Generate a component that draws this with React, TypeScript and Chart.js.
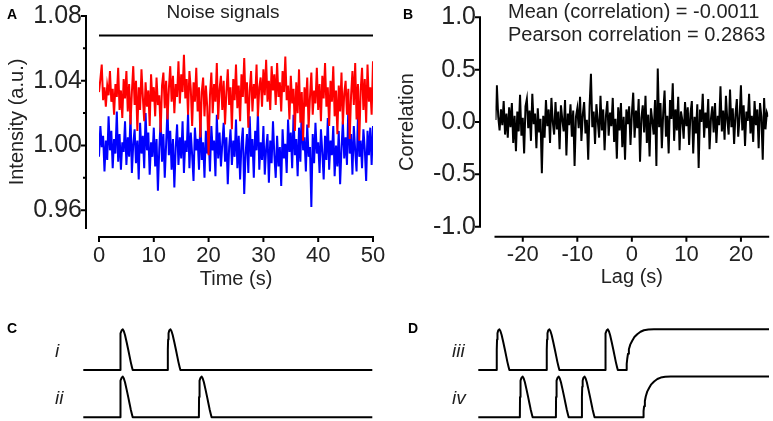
import React, { useEffect, useRef } from 'react';
import { Chart, registerables } from 'chart.js';

Chart.register(...registerables);

const FONT = "'Liberation Sans', Arial, Helvetica, sans-serif";
const TEXT = '#222';

// ---------- Panel A: noise signals ----------
const timeStep = 0.25; // s
const redSignal = [
  1.033, 1.041, 1.050, 1.028, 1.036, 1.024, 1.037, 1.031, 1.046, 1.027, 1.035, 1.019, 1.038, 1.030, 1.048, 1.022, 1.034, 1.017, 1.041, 1.029,
  1.046, 1.021, 1.038, 1.013, 1.033, 1.049, 1.025, 1.040, 1.009, 1.036, 1.022, 1.047, 1.030, 1.015, 1.039, 1.024, 1.034, 1.012, 1.044, 1.027,
  1.036, 1.018, 1.042, 1.025, 1.031, 1.008, 1.037, 1.045, 1.023, 1.040, 1.016, 1.035, 1.049, 1.027, 1.043, 1.020, 1.038, 1.030, 1.052, 1.026,
  1.044, 1.033, 1.056, 1.029, 1.041, 1.019, 1.046, 1.035, 1.012, 1.039, 1.027, 1.048, 1.021, 1.036, 1.005, 1.033, 1.042, 1.018, 1.037, 1.024,
  0.994, 1.031, 1.045, 1.020, 1.038, 1.027, 1.051, 1.016, 1.035, 1.043, 1.022, 1.040, 1.013, 1.033, 1.047, 1.025, 1.036, 1.010, 1.041, 1.028,
  1.050, 1.023, 1.037, 1.015, 1.044, 1.030, 1.054, 1.026, 1.039, 1.011, 1.034, 1.046, 1.021, 1.038, 1.029, 1.050, 1.018, 1.036, 1.042, 1.024,
  1.047, 1.031, 1.053, 1.027, 1.040, 1.022, 1.049, 1.034, 1.044, 1.025, 1.051, 1.030, 1.039, 1.021, 1.046, 1.033, 1.055, 1.028, 1.037, 1.016,
  1.043, 1.026, 1.035, 1.009, 1.039, 1.020, 1.047, 1.014, 1.033, 1.003, 1.036, 1.024, 1.042, 1.011, 1.030, 1.045, 1.019, 1.034, 1.026, 1.048,
  1.022, 1.038, 1.015, 1.043, 1.029, 1.051, 1.024, 1.036, 1.012, 1.040, 1.027, 1.049, 1.018, 1.034, 1.007, 1.037, 1.021, 1.045, 1.013, 1.032,
  1.040, 1.019, 1.035, 1.004, 1.031, 1.046, 1.025, 1.051, 1.016, 1.038, 1.003, 1.034, 1.048, 1.022, 1.041, 1.014, 1.050, 1.027, 1.036, 1.019,
  1.052,
];
const blueSignal = [
  0.993, 1.012, 0.999, 1.006, 0.984, 1.003, 0.991, 1.018, 0.997, 1.009, 0.986, 1.004, 0.995, 1.021, 0.990, 1.007, 0.985, 1.002, 0.996, 1.015,
  0.988, 1.005, 0.993, 1.019, 0.983, 1.001, 1.010, 0.989, 1.003, 0.979, 1.014, 0.995, 1.006, 0.986, 1.020, 0.997, 1.008, 0.982, 1.002, 0.993,
  1.011, 0.987, 1.004, 0.972, 0.998, 1.016, 0.990, 1.007, 0.980, 1.001, 1.023, 0.994, 1.009, 0.985, 1.004, 0.974, 0.999, 1.013, 0.988, 1.005,
  0.992, 1.015, 0.983, 1.003, 0.996, 1.020, 0.986, 1.008, 0.994, 0.978, 1.011, 0.997, 1.004, 0.985, 1.017, 0.991, 1.002, 0.980, 1.009, 0.995,
  1.006, 0.984, 1.012, 0.997, 1.003, 0.981, 1.019, 0.992, 1.008, 0.987, 1.001, 1.014, 0.990, 1.005, 0.976, 0.999, 1.010, 0.988, 1.003, 0.993,
  1.016, 0.986, 1.006, 0.979, 1.001, 1.011, 0.970, 0.995, 1.007, 0.983, 1.018, 0.993, 1.004, 0.980, 1.009, 0.997, 1.021, 0.985, 1.002, 0.991,
  1.012, 0.982, 0.998, 1.007, 0.977, 1.003, 0.989, 1.015, 0.994, 0.980, 1.006, 0.987, 0.999, 0.975, 1.010, 0.992, 1.001, 0.983, 1.016, 0.996,
  1.008, 0.986, 1.019, 0.994, 1.004, 0.981, 1.011, 0.990, 1.023, 0.997, 1.005, 0.984, 1.013, 0.993, 0.999, 0.962, 1.007, 0.989, 1.014, 0.995,
  1.002, 0.983, 1.010, 0.996, 0.979, 1.006, 0.991, 1.017, 0.985, 1.003, 0.994, 1.012, 0.981, 1.000, 0.987, 1.009, 0.976, 0.998, 1.015, 0.992,
  1.005, 0.988, 1.024, 0.995, 1.007, 0.982, 1.012, 0.997, 0.984, 1.018, 0.993, 1.003, 0.986, 1.010, 0.998, 0.978, 1.009, 0.994, 1.011, 0.988,
  1.012,
];
const referenceLevel = 1.068;
const xRangeA = [0, 50];
const yRangeA = [0.949, 1.08];
const xTicksA = [0, 10, 20, 30, 40, 50];
const yTicksA = [0.96, 0.98, 1.0, 1.02, 1.04, 1.06, 1.08];
const yMajorTicksA = [0.96, 1.0, 1.04, 1.08];

// ---------- Panel B: cross-correlation ----------
const lagStart = -25;
const lagStep = 0.25;
const correlation = [
  0.02, 0.35, 0.05, -0.08, 0.12, -0.03, 0.20, -0.12, 0.08, -0.15, 0.14, -0.05, 0.18, -0.20, 0.06, -0.28, 0.10, -0.09, 0.26, -0.13,
  0.04, -0.30, 0.15, 0.22, -0.06, 0.11, -0.18, 0.27, -0.02, 0.08, -0.25, 0.13, -0.10, 0.03, -0.49, 0.06, -0.15, 0.21, -0.04, 0.12,
  -0.20, 0.23, 0.00, -0.12, 0.19, -0.07, 0.10, -0.26, 0.16, 0.02, -0.09, 0.21, -0.32, 0.08, -0.03, 0.17, -0.14, 0.11, -0.42, 0.05,
  0.13, -0.06, 0.24, -0.18, 0.07, 0.19, -0.11, 0.02, -0.36, 0.15, 0.46, -0.05, 0.10, -0.21, 0.17, 0.01, -0.15, 0.25, -0.08, 0.12,
  -0.27, 0.06, 0.20, -0.13, 0.09, -0.04, 0.23, -0.19, 0.03, -0.35, 0.14, -0.08, 0.18, -0.24, 0.05, -0.36, 0.12, -0.02, 0.15, -0.22,
  0.08, 0.28, -0.15, 0.11, -0.06, 0.22, -0.38, 0.04, 0.16, -0.10, 0.25, -0.20, 0.07, -0.33, 0.13, 0.01, -0.12, 0.21, -0.42, 0.51,
  -0.05, 0.18, -0.25, 0.09, 0.30, -0.14, 0.06, -0.30, 0.21, 0.03, 0.37, -0.18, 0.12, -0.08, 0.24, -0.27, 0.10, 0.02, -0.16, 0.19,
  -0.04, 0.14, -0.22, 0.08, 0.20, -0.30, 0.05, -0.11, 0.17, -0.44, 0.12, 0.00, 0.27, -0.15, 0.09, -0.06, 0.22, -0.26, 0.03, 0.15,
  -0.10, 0.18, -0.20, 0.06, -0.03, 0.34, -0.09, 0.11, -0.17, 0.25, 0.02, -0.12, 0.31, -0.05, 0.13, -0.21, 0.07, 0.22, -0.14, 0.04,
  0.35, -0.08, 0.16, -0.23, 0.10, 0.01, 0.27, -0.11, 0.06, -0.19, 0.20, -0.03, 0.12, -0.25, 0.18, 0.05, -0.36, 0.23, -0.07, 0.09,
  0.05,
];
const xRangeB = [-25, 25];
const yRangeB = [-1, 1];
const xTicksB = [-20, -10, 0, 10, 20];
const yTicksB = [-1, -0.5, 0, 0.5, 1];
const meanText = 'Mean (correlation) = -0.0011';
const pearsonText = 'Pearson correlation = 0.2863';

// ---------- Panels C / D: schematic spike trains ----------
const pulseShapeDx = [0, 0.05, 0.15, 0.3, 0.55, 0.93, 1.3, 1.73, 2.3, 2.87, 3.3, 3.7, 4.1, 4.39];
const pulseShapeDy = [0, 0.5, 0.75, 0.9, 0.97, 1.0, 0.96, 0.86, 0.68, 0.49, 0.34, 0.2, 0.08, 0];
const stepShapeDx = [0, 0.05, 0.23, 0.5, 0.8, 1.3, 1.95, 2.7, 3.67, 4.8, 5.96, 7.5, 9.4];
const stepShapeDy = [0, 0.15, 0.27, 0.4, 0.51, 0.63, 0.72, 0.81, 0.88, 0.94, 0.976, 0.995, 1.0];
const traceSpan = [0, 100];
const upperOffset = 1.162;
const pulsesI = [12.7, 29.2];
const pulsesII = [12.7, 40.0];
const pulsesIII = [6.3, 23.5, 43.6];
const stepIII = 51.0;
const pulsesIV = [14.3, 26.7, 35.6];
const stepIV = 56.8;

type Pt = { x: number; y: number };

function seriesPoints(values: number[], start: number, step: number): Pt[] {
  return values.map((v, i) => ({ x: start + i * step, y: v }));
}

function buildTrace(pulses: number[], step: number | null, offset: number): Pt[] {
  const pts: Pt[] = [{ x: traceSpan[0], y: offset }];
  pulses.forEach((t0) => {
    pulseShapeDx.forEach((dx, i) => pts.push({ x: t0 + dx, y: offset + pulseShapeDy[i] }));
  });
  let endY = offset;
  if (step !== null) {
    stepShapeDx.forEach((dx, i) => pts.push({ x: step + dx, y: offset + stepShapeDy[i] }));
    endY = offset + 1;
  }
  pts.push({ x: traceSpan[1], y: endY });
  return pts;
}

const spinePlugin = {
  id: 'spines',
  afterDraw(chart: any, _args: any, opts: any) {
    const { ctx, chartArea, scales } = chart;
    const xs = scales.x;
    const ys = scales.y;
    ctx.save();
    ctx.strokeStyle = '#000';
    ctx.lineWidth = 2;
    ctx.lineCap = 'butt';
    const sx = chartArea.left - opts.yGap;
    const sy = chartArea.bottom + opts.xGap;
    ctx.beginPath();
    ctx.moveTo(sx, chartArea.top - 1);
    ctx.lineTo(sx, chartArea.bottom + 1);
    ys.ticks.forEach((t: any) => {
      const p = ys.getPixelForValue(t.value);
      const len = t.label ? opts.major : opts.minor;
      ctx.moveTo(sx - len, p);
      ctx.lineTo(sx, p);
    });
    ctx.stroke();
    ctx.beginPath();
    ctx.moveTo(xs.left - 1, sy);
    ctx.lineTo(xs.right + 1, sy);
    xs.ticks.forEach((t: any) => {
      const p = xs.getPixelForValue(t.value);
      ctx.moveTo(p, sy);
      ctx.lineTo(p, sy + opts.major);
    });
    ctx.stroke();
    ctx.restore();
  },
};

function axisChart(canvas: HTMLCanvasElement, cfg: any) {
  const options: any = {
    animation: false,
    responsive: false,
    events: [],
    layout: { padding: { ...cfg.padding } },
    plugins: {
      legend: { display: false },
      tooltip: { enabled: false },
      title: { display: false },
      spines: cfg.spines,
    },
    scales: {
      x: {
        type: 'linear',
        min: cfg.xRange[0],
        max: cfg.xRange[1],
        grid: { display: false, drawTicks: false },
        border: { display: false },
        afterBuildTicks: (s: any) => {
          s.ticks = cfg.xTicks.map((v: number) => ({ value: v }));
        },
        afterFit: (s: any) => {
          s.height = cfg.xHeight;
          s.paddingLeft = 0;
          s.paddingRight = 0;
        },
        ticks: {
          autoSkip: false,
          maxRotation: 0,
          padding: cfg.xTickPad,
          color: TEXT,
          font: { family: FONT, size: 22 },
          callback: (v: any) => String(v),
        },
        title: {
          display: true,
          text: cfg.xTitle,
          color: TEXT,
          font: { family: FONT, size: 20 },
          padding: { top: 0, bottom: cfg.xTitlePad },
        },
      },
      y: {
        type: 'linear',
        min: cfg.yRange[0],
        max: cfg.yRange[1],
        grid: { display: false, drawTicks: false },
        border: { display: false },
        afterBuildTicks: (s: any) => {
          s.ticks = cfg.yTicks.map((v: number) => ({ value: v }));
        },
        afterFit: (s: any) => {
          s.width = cfg.yWidth;
          s.paddingTop = 0;
          s.paddingBottom = 0;
        },
        ticks: {
          autoSkip: false,
          padding: cfg.yTickPad,
          color: TEXT,
          font: { family: FONT, size: 25 },
          callback: cfg.yLabel,
        },
        title: {
          display: true,
          text: cfg.yTitle,
          color: TEXT,
          font: { family: FONT, size: 20 },
          padding: { top: 5, bottom: 0 },
        },
      },
    },
  };
  const chart: any = new Chart(canvas, {
    type: 'line',
    data: { datasets: cfg.datasets },
    plugins: [spinePlugin],
    options,
  } as any);
  // nudge the layout so the plot area lands exactly where the figure has it
  const pad = { ...cfg.padding };
  for (let k = 0; k < 5; k++) {
    const a = chart.chartArea;
    const want = cfg.area;
    const dTop = want.top - a.top;
    const dRight = a.right - want.right;
    const dLeft = want.left - a.left;
    const dBottom = a.bottom - want.bottom;
    if (Math.abs(dTop) + Math.abs(dRight) + Math.abs(dLeft) + Math.abs(dBottom) < 0.2) break;
    pad.top = Math.max(0, pad.top + dTop);
    pad.right = Math.max(0, pad.right + dRight);
    cfg.yWidth += dLeft;
    cfg.xHeight += dBottom;
    chart.config.options.layout.padding = { ...pad };
    chart.update();
  }
  return chart as Chart;
}

function traceChart(canvas: HTMLCanvasElement, traces: Pt[][], padding: any) {
  return new Chart(canvas, {
    type: 'line',
    data: {
      datasets: traces.map((t) => ({
        data: t,
        borderColor: '#000',
        borderWidth: 2,
        pointRadius: 0,
        tension: 0,
        clip: false,
        borderJoinStyle: 'round',
      })),
    },
    options: {
      animation: false,
      responsive: false,
      events: [],
      layout: { padding },
      plugins: { legend: { display: false }, tooltip: { enabled: false } },
      scales: {
        x: { type: 'linear', min: traceSpan[0], max: traceSpan[1], display: false },
        y: { type: 'linear', min: 0, max: upperOffset + 1, display: false },
      },
    },
  } as any);
}

function Txt(props: { x: number; base: number; size: number; bold?: boolean; italic?: boolean; children: any; center?: boolean }) {
  const { x, base, size, bold, italic, children, center } = props;
  const top = base - size * 0.8465;
  return (
    <div
      style={{
        position: 'absolute',
        left: center ? x - 200 : x,
        width: center ? 400 : undefined,
        textAlign: center ? 'center' : 'left',
        top,
        fontFamily: FONT,
        fontSize: size,
        lineHeight: '1',
        fontWeight: bold ? 'bold' : 'normal',
        fontStyle: italic ? 'italic' : 'normal',
        color: bold ? '#000' : TEXT,
        whiteSpace: 'nowrap',
      }}
    >
      {children}
    </div>
  );
}

export default function App() {
  const aRef = useRef<HTMLCanvasElement>(null);
  const bRef = useRef<HTMLCanvasElement>(null);
  const cRef = useRef<HTMLCanvasElement>(null);
  const dRef = useRef<HTMLCanvasElement>(null);

  useEffect(() => {
    const charts: Chart[] = [];
    const isMajorA = (v: number) => yMajorTicksA.some((m) => Math.abs(m - v) < 1e-6);
    charts.push(
      axisChart(aRef.current!, {
        datasets: [
          { data: seriesPoints(redSignal, 0, timeStep), borderColor: '#ff0000', borderWidth: 2, pointRadius: 0, tension: 0 },
          { data: seriesPoints(blueSignal, 0, timeStep), borderColor: '#0000ff', borderWidth: 2, pointRadius: 0, tension: 0 },
          { data: [{ x: xRangeA[0], y: referenceLevel }, { x: xRangeA[1], y: referenceLevel }], borderColor: '#000', borderWidth: 2, pointRadius: 0 },
        ],
        padding: { left: 0, top: 16, right: 17, bottom: 0 },
        area: { left: 99, top: 16, right: 373, bottom: 228 },
        spines: { yGap: 13, xGap: 9, major: 5, minor: 3 },
        xRange: xRangeA,
        yRange: yRangeA,
        xTicks: xTicksA,
        yTicks: yTicksA,
        xHeight: 72,
        yWidth: 99,
        xTickPad: 15,
        yTickPad: 17,
        xTitle: 'Time (s)',
        yTitle: 'Intensity (a.u.)',
        xTitlePad: 9,
        yLabel: (v: any) => (isMajorA(v) ? Number(v).toFixed(2) : ''),
      })
    );
    charts.push(
      axisChart(bRef.current!, {
        datasets: [
          { data: seriesPoints(correlation, lagStart, lagStep), borderColor: '#000', borderWidth: 2, pointRadius: 0, tension: 0 },
        ],
        padding: { left: 0, top: 17.3, right: 4.8, bottom: 0 },
        area: { left: 105.5, top: 17.3, right: 378.2, bottom: 226.7 },
        spines: { yGap: 15.5, xGap: 10, major: 5, minor: 3 },
        xRange: xRangeB,
        yRange: yRangeB,
        xTicks: xTicksB,
        yTicks: yTicksB,
        xHeight: 73.3,
        yWidth: 105.5,
        xTickPad: 15,
        yTickPad: 19.5,
        xTitle: 'Lag (s)',
        yTitle: 'Correlation',
        xTitlePad: 11,
        yLabel: (v: any) => Number(v).toFixed(1),
      })
    );
    charts.push(
      traceChart(
        cRef.current!,
        [buildTrace(pulsesI, null, upperOffset), buildTrace(pulsesII, null, 0)],
        { left: 83.3, right: 17.7, top: 29.3, bottom: 3.7 }
      )
    );
    charts.push(
      traceChart(
        dRef.current!,
        [buildTrace(pulsesIII, stepIII, upperOffset), buildTrace(pulsesIV, stepIV, 0)],
        { left: 88.3, right: 4, top: 29.3, bottom: 3.7 }
      )
    );
    return () => charts.forEach((c) => c.destroy());
  }, []);

  return (
    <div style={{ position: 'absolute', left: 0, top: 0, width: 773, height: 421, background: '#fff', overflow: 'hidden' }}>
      <canvas ref={aRef} width={390} height={300} style={{ position: 'absolute', left: 0, top: 0 }} />
      <canvas ref={bRef} width={383} height={300} style={{ position: 'absolute', left: 390, top: 0 }} />
      <canvas ref={cRef} width={390} height={121} style={{ position: 'absolute', left: 0, top: 300 }} />
      <canvas ref={dRef} width={383} height={121} style={{ position: 'absolute', left: 390, top: 300 }} />
      <Txt x={7} base={19} size={14} bold>A</Txt>
      <Txt x={403} base={19} size={14} bold>B</Txt>
      <Txt x={7} base={333} size={14} bold>C</Txt>
      <Txt x={408} base={333} size={14} bold>D</Txt>
      <Txt x={223} base={18.5} size={19} center>Noise signals</Txt>
      <Txt x={508} base={17.6} size={20}>{meanText}</Txt>
      <Txt x={508} base={41} size={20}>{pearsonText}</Txt>
      <Txt x={55} base={357} size={19} italic>i</Txt>
      <Txt x={55} base={404} size={19} italic>ii</Txt>
      <Txt x={452} base={357} size={19} italic>iii</Txt>
      <Txt x={452} base={404} size={19} italic>iv</Txt>
    </div>
  );
}
